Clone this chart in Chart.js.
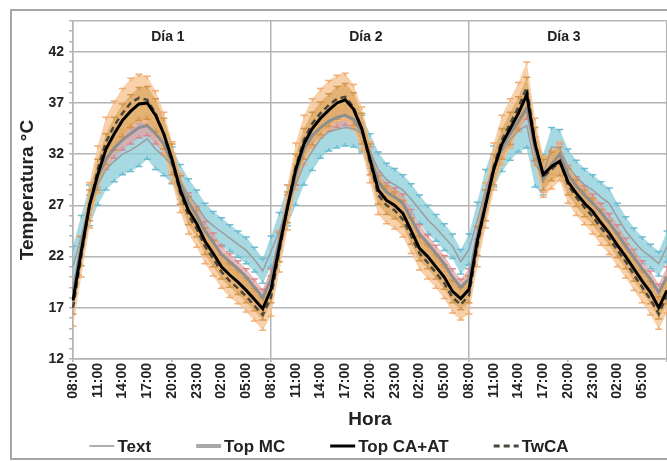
<!DOCTYPE html>
<html><head><meta charset="utf-8">
<script src="https://cdn.jsdelivr.net/npm/chart.js@4.4.1/dist/chart.umd.min.js"></script>
<style>html,body{margin:0;padding:0;background:#fff;overflow:hidden;width:667px;height:461px}canvas{display:block}</style>
</head><body>
<canvas id="c" width="667" height="461"></canvas>
<script>
// ---------- DATA ----------
const dayHours = ['08:00','09:00','10:00','11:00','12:00','13:00','14:00','15:00','16:00','17:00','18:00','19:00',
                  '20:00','21:00','22:00','23:00','00:00','01:00','02:00','03:00','04:00','05:00','06:00','07:00'];
const hourLabels = [...dayHours, ...dayHours, ...dayHours, '08:00'];
const dayNames = ['Día 1', 'Día 2', 'Día 3'];
const dayNameAt = [11.5, 35.5, 59.5];
const yTicks = [12, 17, 22, 27, 32, 37, 42];
const seriesNames = ['Text', 'Top MC', 'Top CA+AT', 'TwCA'];

const tText = [21.0,24.0,27.0,29.0,30.5,31.3,32.0,32.4,32.9,33.5,32.5,31.8,30.9,29.3,28.0,27.0,25.7,25.0,24.4,23.8,23.2,22.6,21.7,20.6,
               22.5,24.5,27.0,29.0,31.0,32.3,33.5,34.2,34.4,34.6,34.5,34.0,32.3,30.5,29.5,29.0,28.5,27.6,26.6,25.6,24.8,23.9,23.0,21.5,
               22.7,25.5,28.5,30.8,32.3,33.4,34.3,34.8,31.0,30.0,32.7,32.6,30.8,29.8,29.0,28.5,27.8,27.2,25.8,24.5,23.5,22.6,22.0,21.3,
               23.0];
const tMC = [18.5,23.0,27.0,29.8,31.5,32.6,33.4,34.0,34.6,34.8,34.0,33.0,31.2,29.0,27.3,26.0,24.5,23.4,22.2,21.5,20.8,20.0,19.0,18.0,
             19.8,23.5,27.0,30.0,32.5,33.8,34.6,35.2,35.6,35.8,35.4,34.2,31.8,29.3,28.3,27.8,27.2,25.7,24.2,23.3,22.3,21.3,20.0,19.0,
             19.8,24.0,27.5,30.5,32.7,34.0,35.2,36.5,32.5,29.5,31.0,32.0,30.0,28.9,28.0,27.2,26.3,25.3,24.2,23.0,21.9,20.8,19.8,18.5,
             20.0];
const tCAAT = [17.7,22.5,27.0,30.0,32.5,34.0,35.3,36.2,36.9,37.0,35.8,34.0,31.5,28.5,26.5,25.2,23.5,22.3,21.0,20.2,19.5,18.7,17.8,16.9,
               18.8,22.9,26.8,30.5,33.0,34.5,35.5,36.3,37.0,37.3,36.4,34.5,31.5,28.5,27.5,27.0,26.2,24.5,22.8,22.0,21.0,20.0,18.6,17.9,
               18.8,23.5,27.0,30.5,33.0,34.5,36.0,37.8,33.0,30.0,30.8,31.3,29.3,28.2,27.2,26.4,25.3,24.3,23.1,22.0,20.8,19.6,18.5,17.0,
               18.7];
const tTwCA = [17.0,22.0,27.0,30.5,33.2,34.8,36.0,37.0,37.5,37.3,36.0,34.0,31.2,28.2,26.0,24.7,23.0,21.8,20.5,19.6,18.9,18.1,17.2,16.3,
               18.0,22.5,26.8,30.8,33.4,35.0,36.0,36.8,37.4,37.6,36.6,34.5,31.2,28.0,27.0,26.5,25.6,24.0,22.3,21.4,20.4,19.4,18.0,17.3,
               18.2,23.0,27.0,30.8,33.4,35.0,36.6,38.5,33.2,29.8,30.5,31.3,29.0,27.8,26.8,25.9,24.8,23.8,22.6,21.5,20.2,19.0,17.8,16.4,
               18.2];

// standard deviations (error bars)
const sdText = [2.0,2.0,2.0,2.0,2.0,2.0,2.0,2.1,2.1,2.0,2.0,1.9,1.8,1.7,1.6,1.5,1.5,1.4,1.4,1.3,1.3,1.3,1.2,1.2,
                1.5,1.8,2.0,2.0,2.0,1.9,1.9,1.9,1.8,1.8,1.8,1.8,1.7,1.7,1.6,1.6,1.5,1.5,1.4,1.4,1.3,1.3,1.2,1.2,
                1.5,1.8,2.0,2.0,2.0,2.0,2.1,2.2,2.2,2.0,1.9,1.8,1.7,1.6,1.6,1.5,1.5,1.5,1.4,1.4,1.3,1.3,1.2,1.2,
                1.5];
const sdMC = [1.0,1.0,1.0,1.0,1.0,1.0,1.0,1.0,1.0,1.0,1.0,0.9,0.9,0.9,0.9,0.9,0.9,0.9,0.9,0.8,0.8,0.8,0.8,0.8,
              1.0,1.0,1.0,1.0,1.0,1.0,1.0,1.0,1.0,1.0,1.0,0.9,0.9,0.9,0.9,0.9,0.9,0.9,0.9,0.8,0.8,0.8,0.8,0.8,
              1.0,1.0,1.0,1.0,1.0,1.0,1.0,1.1,1.2,1.2,1.0,1.0,0.9,0.9,0.9,0.9,0.9,0.9,0.9,0.8,0.8,0.8,0.8,0.8,
              1.0];
const sdCAAT = [1.3,1.4,1.5,1.5,1.5,1.6,1.6,1.6,1.6,1.6,1.6,1.5,1.5,1.4,1.4,1.3,1.3,1.3,1.2,1.2,1.2,1.2,1.1,1.1,
                1.3,1.4,1.5,1.5,1.5,1.6,1.6,1.6,1.6,1.6,1.6,1.5,1.5,1.4,1.4,1.3,1.3,1.3,1.2,1.2,1.2,1.2,1.1,1.1,
                1.3,1.4,1.5,1.5,1.5,1.6,1.6,1.7,1.6,1.5,1.4,1.4,1.3,1.3,1.3,1.3,1.3,1.2,1.2,1.2,1.2,1.1,1.1,1.1,
                1.3];
const sdTwCA = [1.8,2.0,2.2,2.3,2.4,2.4,2.4,2.4,2.3,2.3,2.2,2.1,2.0,1.9,1.8,1.8,1.7,1.7,1.6,1.6,1.5,1.5,1.5,1.5,
                1.8,2.0,2.2,2.3,2.4,2.4,2.4,2.4,2.3,2.3,2.2,2.1,2.0,1.9,1.8,1.8,1.7,1.7,1.6,1.6,1.5,1.5,1.5,1.5,
                1.8,2.0,2.2,2.3,2.4,2.4,2.4,2.5,2.3,2.0,1.9,1.9,1.8,1.8,1.7,1.7,1.7,1.6,1.6,1.6,1.5,1.5,1.5,1.5,
                1.7];

// ---------- STYLE ----------
const FONT = "'Liberation Sans', Arial, Helvetica, sans-serif";
const TXT = '#222';
const GRID = '#b4b4b4';
Chart.defaults.font.family = FONT;

const errorSets = [
  {mean: tText, sd: sdText, fill: 'rgba(138,204,218,0.75)', cap: 'rgba(100,185,205,0.95)'},
  {mean: tMC,   sd: sdMC,   fill: 'rgba(226,160,158,0.7)',  cap: 'rgba(215,130,135,0.9)'},
  {mean: tTwCA, sd: sdTwCA, fill: 'rgba(246,192,140,0.75)', cap: 'rgba(240,170,110,0.95)'},
  {mean: tCAAT, sd: sdCAAT, fill: 'rgba(220,166,92,0.7)',   cap: 'rgba(205,145,70,0.9)'}
];

const frame = {
  id: 'frame',
  beforeDraw(chart) {
    const ctx = chart.ctx;
    ctx.save();
    ctx.fillStyle = '#fff';
    ctx.fillRect(0, 0, chart.width, chart.height);
    ctx.strokeStyle = '#a6a6a6';
    ctx.lineWidth = 2;
    ctx.beginPath();
    ctx.moveTo(chart.width + 5, 10); ctx.lineTo(11, 10); ctx.lineTo(11, chart.height - 2); ctx.lineTo(chart.width + 5, chart.height - 2);
    ctx.stroke();
    ctx.restore();
  }
};

const errorBars = {
  id: 'errorBars',
  beforeDatasetsDraw(chart) {
    const {ctx, chartArea: a, scales: {x, y}} = chart;
    ctx.save();
    ctx.beginPath();
    ctx.rect(a.left, a.top, a.right - a.left, a.bottom - a.top);
    ctx.clip();
    for (const s of errorSets) {
      const n = s.mean.length;
      ctx.fillStyle = s.fill;
      ctx.beginPath();
      for (let i = 0; i < n; i++) {
        const px = x.getPixelForValue(i), py = y.getPixelForValue(s.mean[i] + s.sd[i]);
        i ? ctx.lineTo(px, py) : ctx.moveTo(px, py);
      }
      for (let i = n - 1; i >= 0; i--) {
        ctx.lineTo(x.getPixelForValue(i), y.getPixelForValue(s.mean[i] - s.sd[i]));
      }
      ctx.closePath();
      ctx.fill();
      ctx.strokeStyle = s.cap;
      ctx.lineWidth = 1.5;
      ctx.beginPath();
      for (let i = 0; i < n; i++) {
        const px = x.getPixelForValue(i);
        const y1 = y.getPixelForValue(s.mean[i] + s.sd[i]);
        const y2 = y.getPixelForValue(s.mean[i] - s.sd[i]);
        ctx.moveTo(px, y1 + 3); ctx.lineTo(px, y1);
        ctx.moveTo(px - 3.5, y1); ctx.lineTo(px + 3.5, y1);
        ctx.moveTo(px, y2 - 3); ctx.lineTo(px, y2);
        ctx.moveTo(px - 3.5, y2); ctx.lineTo(px + 3.5, y2);
      }
      ctx.stroke();
    }
    ctx.restore();
  }
};

const dayHeader = {
  id: 'dayHeader',
  afterDatasetsDraw(chart) {
    const {ctx, scales: {x, y}} = chart;
    ctx.save();
    ctx.fillStyle = TXT;
    ctx.font = 'bold 14px ' + FONT;
    ctx.textAlign = 'center';
    ctx.textBaseline = 'middle';
    dayNames.forEach((d, i) => {
      ctx.fillText(d, x.getPixelForValue(dayNameAt[i]), (y.getPixelForValue(45) + y.getPixelForValue(42)) / 2 + 1);
    });
    ctx.restore();
  }
};

const bottomLegend = {
  id: 'bottomLegend',
  afterDraw(chart) {
    const ctx = chart.ctx;
    ctx.save();
    ctx.font = 'bold 17px ' + FONT;
    const sampleW = 25, gap = 3, spacing = 45;
    const items = [0, 1, 2, 3].map(i => {
      const ds = chart.data.datasets.find(d => d.label === seriesNames[i]);
      return {ds, w: sampleW + gap + ctx.measureText(seriesNames[i]).width, text: seriesNames[i]};
    });
    const total = items.reduce((s, it) => s + it.w, 0) + spacing * (items.length - 1);
    let xPos = 329 - total / 2;
    const yMid = 446;
    items.forEach(it => {
      ctx.strokeStyle = it.ds.legendColor || it.ds.borderColor;
      ctx.lineWidth = it.ds.legendWidth || it.ds.borderWidth;
      ctx.setLineDash(it.ds.borderDash || []);
      ctx.beginPath();
      ctx.moveTo(xPos, yMid); ctx.lineTo(xPos + sampleW, yMid);
      ctx.stroke();
      ctx.setLineDash([]);
      ctx.fillStyle = TXT;
      ctx.textBaseline = 'middle';
      ctx.textAlign = 'left';
      ctx.fillText(it.text, xPos + sampleW + gap, yMid + 1);
      xPos += it.w + spacing;
    });
    ctx.restore();
  }
};

new Chart(document.getElementById('c'), {
  type: 'line',
  data: {
    labels: hourLabels,
    datasets: [
      {label: 'Top CA+AT', data: tCAAT, borderColor: '#000', borderWidth: 3, order: 0},
      {label: 'TwCA', data: tTwCA, borderColor: '#4d463f', borderWidth: 2.5, borderDash: [6, 4], order: 1, legendWidth: 3},
      {label: 'Top MC', data: tMC, borderColor: '#8e8e8e', borderWidth: 3, order: 2, legendColor: '#a8a8a8', legendWidth: 4},
      {label: 'Text', data: tText, borderColor: '#9c9c9c', borderWidth: 1.5, order: 3, legendColor: '#b0b0b0', legendWidth: 2}
    ]
  },
  options: {
    responsive: false,
    animation: false,
    devicePixelRatio: 1,
    layout: {padding: {left: 12, top: 21, right: 0, bottom: 28}},
    elements: {point: {radius: 0}, line: {tension: 0, fill: false}},
    plugins: {legend: {display: false}, tooltip: {enabled: false}},
    scales: {
      x: {
        type: 'category',
        offset: false,
        grid: {
          color: c => (c.index % 24 === 0) ? GRID : 'rgba(0,0,0,0)',
          lineWidth: 1.5,
          tickLength: 3,
          tickColor: c => (c.index % 12 === 0) ? GRID : 'rgba(0,0,0,0)'
        },
        border: {display: true, color: GRID, width: 1.5},
        ticks: {
          autoSkip: false, maxRotation: 90, minRotation: 90, padding: 1,
          color: TXT, font: {size: 14, weight: 'bold'},
          callback: (v, i) => (i % 3 === 0 && i < 72) ? hourLabels[i] : ''
        },
        title: {display: true, text: 'Hora', color: TXT, font: {size: 19, weight: 'bold'}, padding: {top: 0, bottom: 2}},
        afterFit: s => { s.height = 74; s.paddingRight = 0; s.paddingLeft = 0; }
      },
      y: {
        min: 12, max: 45,
        grid: {
          color: c => (yTicks.includes(c.tick.value) || c.tick.value === 45) ? GRID : 'rgba(0,0,0,0)',
          lineWidth: 1.5,
          tickLength: 4,
          tickColor: GRID
        },
        border: {display: true, color: GRID, width: 1.5},
        ticks: {
          stepSize: 1, autoSkip: false, padding: 5,
          color: TXT, font: {size: 14, weight: 'bold'},
          callback: v => yTicks.includes(v) ? String(v) : ''
        },
        title: {display: true, text: 'Temperatura °C', color: TXT, font: {size: 19, weight: 'bold'}, padding: {top: 4, bottom: 0}},
        afterFit: s => { s.width = 61; s.paddingTop = 0; s.paddingBottom = 0; }
      }
    }
  },
  plugins: [frame, errorBars, dayHeader, bottomLegend]
});
</script>
</body></html>
